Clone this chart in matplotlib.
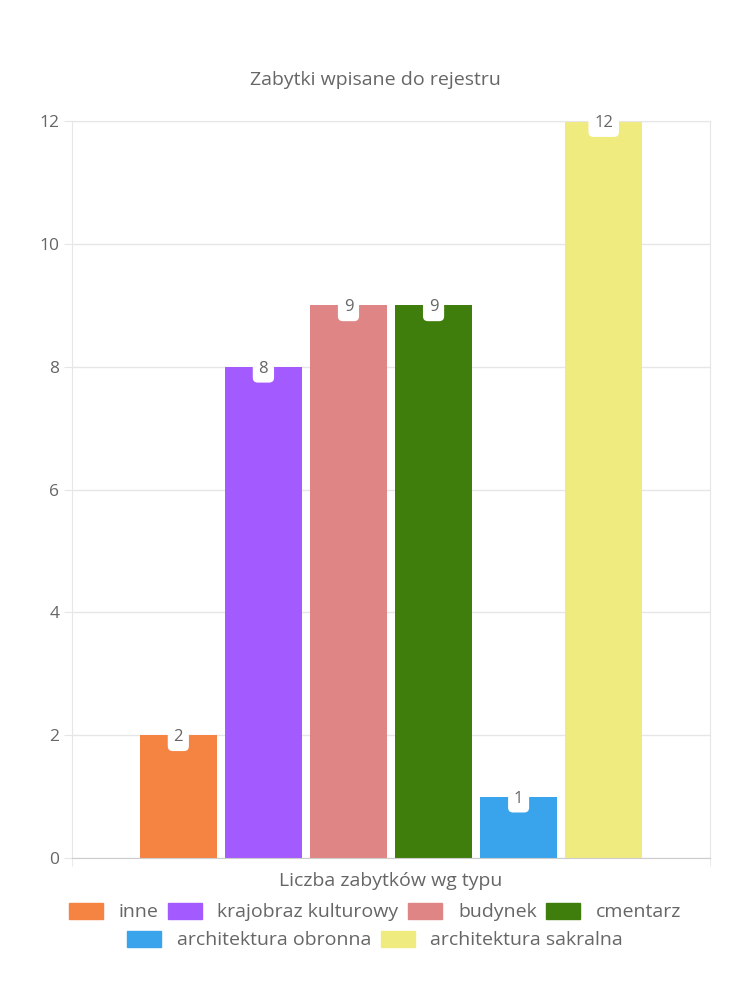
import matplotlib.pyplot as plt
from matplotlib.patches import Patch

# data
title = 'Zabytki wpisane do rejestru'
category = 'Liczba zabytków wg typu'
series = ['inne', 'krajobraz kulturowy', 'budynek', 'cmentarz',
          'architektura obronna', 'architektura sakralna']
values = [2, 8, 9, 9, 1, 12]
colors = ['#F58342', '#A35AFE', '#E08585', '#3F7E0C', '#39A4EB', '#F0EB7F']

plt.rcParams['font.family'] = ['Open Sans', 'DejaVu Sans']
txt = '#666666'
grid = '#e6e6e6'

fig = plt.figure(figsize=(7.5, 10), dpi=100)
ax = fig.add_axes([0.096, 0.142, 0.8507, 0.737])

n = len(series)
slot = 0.8 / n
for i, (v, c) in enumerate(zip(values, colors)):
    x = (i - (n - 1) / 2) * slot
    ax.bar(x, v, width=slot * 0.9, color=c, zorder=2)
    ax.annotate(str(v), (x, v), xytext=(0, -1.5), textcoords='offset points',
                ha='center', va='center', fontsize=12, color=txt, zorder=4,
                annotation_clip=False,
                bbox=dict(boxstyle='round,pad=0.35,rounding_size=0.3',
                          fc='white', ec='none'))

ax.set_xlim(-0.5, 0.5)
ax.set_ylim(0, 12)
ax.set_yticks(range(0, 13, 2))
ax.set_xticks([0])
ax.set_xticklabels([category])
ax.set_xticks([-0.5, 0.5], minor=True)
ax.tick_params(axis='x', which='major', length=0, pad=10, labelsize=14, labelcolor=txt)
ax.tick_params(axis='x', which='minor', length=6, color=grid)
ax.tick_params(axis='y', length=6, color=grid, labelsize=12.5, labelcolor=txt, pad=3)
ax.grid(axis='y', color=grid, linewidth=1, zorder=0)
for s in ['left', 'right', 'top']:
    ax.spines[s].set_color(grid)
ax.spines['bottom'].set_color('#cccccc')

fig.text(0.5, 0.92, title, ha='center', va='center', fontsize=14, color=txt)

handles = [Patch(color=c) for c in colors]
kw = dict(frameon=False, fontsize=14, labelcolor=txt, handlelength=1.75,
          handleheight=0.9, handletextpad=0.8, columnspacing=0.5, loc='center')
fig.legend(handles[:4], series[:4], ncol=4, bbox_to_anchor=(0.5, 0.088), **kw)
fig.legend(handles[4:], series[4:], ncol=2, bbox_to_anchor=(0.5, 0.06), **kw)

fig.savefig('out.png', dpi=100)
